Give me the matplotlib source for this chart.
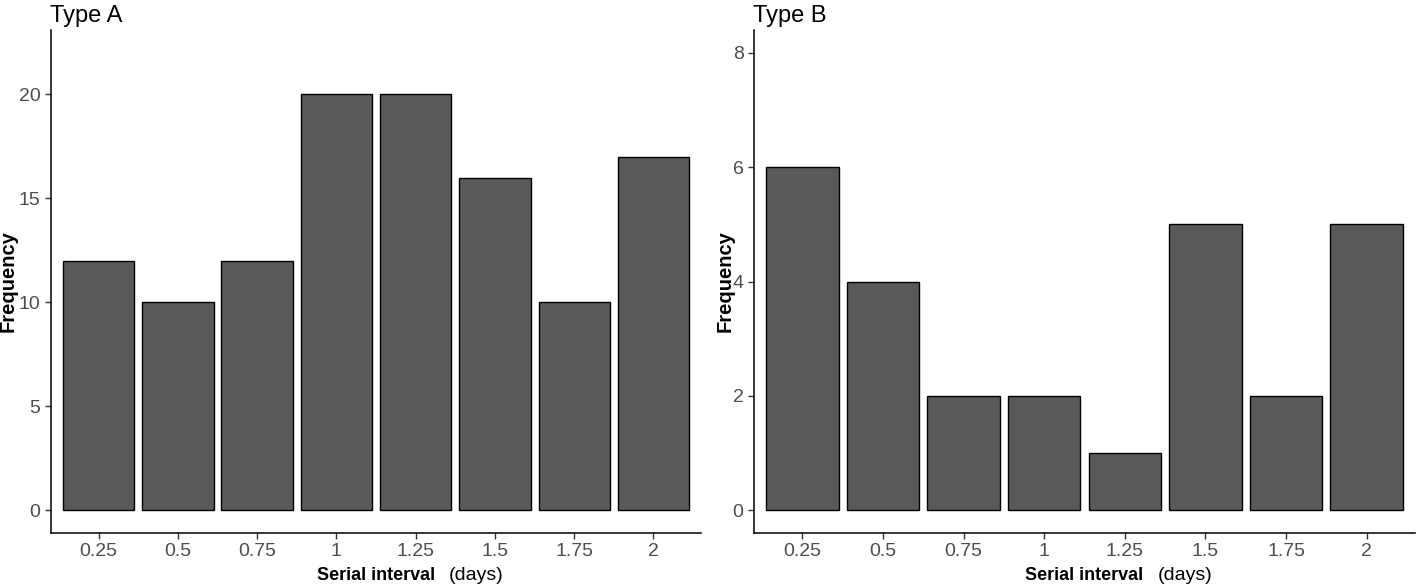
import matplotlib.pyplot as plt

plt.rcParams['font.family'] = ['Liberation Sans', 'DejaVu Sans']

# Serial interval bins (days) and counts
intervals = [0.25, 0.5, 0.75, 1.0, 1.25, 1.5, 1.75, 2.0]
interval_labels = ["0.25", "0.5", "0.75", "1", "1.25", "1.5", "1.75", "2"]
freq_a = [12, 10, 12, 20, 20, 16, 10, 17]
freq_b = [6, 4, 2, 2, 1, 5, 2, 5]

fig = plt.figure(figsize=(14.18, 5.85), dpi=100)
ax1 = fig.add_axes([51 / 1418, 52 / 585, 650 / 1418, 503 / 585])
ax2 = fig.add_axes([754 / 1418, 52 / 585, 661 / 1418, 503 / 585])

panels = [
    (ax1, freq_a, "Type A", (-1.1, 23.1), [0, 5, 10, 15, 20], -0.051),
    (ax2, freq_b, "Type B", (-0.4, 8.4), [0, 2, 4, 6, 8], -0.030),
]

for ax, freq, title, ylim, yticks, ylab_x in panels:
    ax.bar(intervals, freq, width=0.225, color="#595959", edgecolor="black", linewidth=1)
    ax.set_xlim(0.1, 2.15)
    ax.set_ylim(*ylim)
    ax.set_xticks(intervals)
    ax.set_xticklabels(interval_labels)
    ax.set_yticks(yticks)
    ax.tick_params(axis="both", labelsize=14, labelcolor="#4d4d4d", color="#333333",
                   length=4, width=1)
    for side in ["top", "right"]:
        ax.spines[side].set_visible(False)
    for side in ["left", "bottom"]:
        ax.spines[side].set_linewidth(1.1)
    ax.set_title(title, loc="left", fontsize=17, pad=6, x=-0.002)
    ax.set_ylabel("Frequency", fontsize=14.5, fontweight="bold")
    ax.yaxis.set_label_coords(ylab_x, 0.5)
    ax.set_xlabel("Serial interval", fontsize=13, fontweight="bold", labelpad=5)
    ax.annotate("(days)", xy=(1, 0), xycoords=ax.xaxis.label, xytext=(10, 0),
                textcoords="offset points", fontsize=14, va="bottom", ha="left")

fig.savefig("out.png", dpi=100)
